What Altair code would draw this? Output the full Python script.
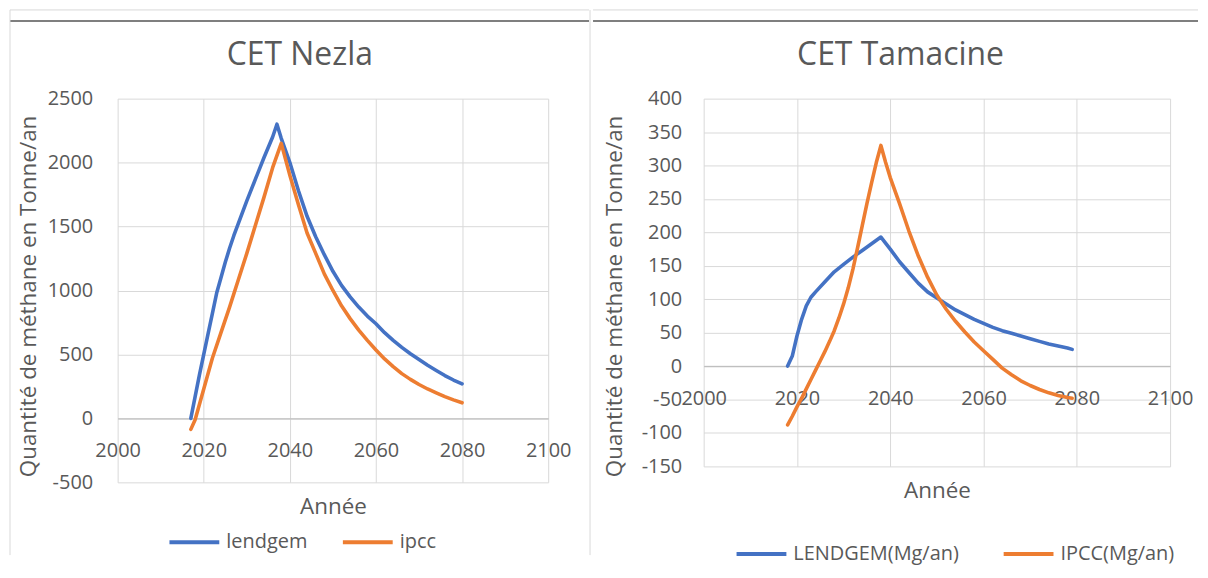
import altair as alt
import pandas as pd

# ---------------- data ----------------
nezla_lendgem_years = [2017, 2018, 2019, 2020, 2021, 2022, 2023, 2024, 2025, 2026, 2027, 2028,
                       2030, 2032, 2034, 2036, 2037, 2038, 2040, 2042, 2044, 2046, 2048, 2050,
                       2052, 2054, 2056, 2058, 2060, 2062, 2064, 2066, 2068, 2070, 2072, 2074,
                       2076, 2078, 2080]
nezla_lendgem_values = [0, 170, 340, 500, 660, 820, 980, 1100, 1220, 1330, 1430, 1520,
                        1700, 1870, 2040, 2200, 2300, 2190, 2000, 1780, 1580, 1420, 1280, 1150,
                        1040, 950, 870, 800, 740, 670, 610, 555, 505, 460, 415, 375,
                        335, 300, 270]

nezla_ipcc_years = [2017, 2018, 2020, 2022, 2024, 2026, 2028, 2030, 2032, 2034, 2036, 2038,
                    2040, 2042, 2044, 2046, 2048, 2050, 2052, 2054, 2056, 2058, 2060, 2062,
                    2064, 2066, 2068, 2070, 2072, 2074, 2076, 2078, 2080]
nezla_ipcc_values = [-86, -10, 230, 470, 670, 870, 1080, 1290, 1510, 1730, 1960, 2150,
                     1900, 1670, 1450, 1290, 1130, 1000, 880, 780, 690, 610, 535, 465,
                     405, 350, 305, 265, 230, 200, 170, 145, 122]

tama_lendgem_years = [2018, 2019, 2020, 2021, 2022, 2023, 2024, 2026, 2028, 2030, 2032, 2034,
                      2036, 2038, 2040, 2042, 2044, 2046, 2048, 2050, 2052, 2054, 2056, 2058,
                      2060, 2062, 2064, 2066, 2068, 2070, 2072, 2074, 2076, 2078, 2079]
tama_lendgem_values = [0, 15, 45, 70, 90, 103, 111, 126, 141, 152, 163, 173,
                       183, 193, 175, 156, 140, 124, 111, 102, 93, 84, 77, 70,
                       64, 58, 53, 49, 45, 41, 37, 33, 30, 27, 25]

tama_ipcc_years = [2018, 2019, 2020, 2021, 2022, 2023, 2024, 2025, 2026, 2027, 2028, 2029,
                   2030, 2031, 2032, 2033, 2034, 2035, 2036, 2037, 2038, 2039, 2040, 2042,
                   2044, 2046, 2048, 2050, 2052, 2054, 2056, 2058, 2060, 2062, 2064, 2066,
                   2068, 2070, 2072, 2074, 2076, 2078, 2079]
tama_ipcc_values = [-88, -75, -61, -48, -34, -20, -6, 8, 22, 37, 53, 72,
                    93, 117, 145, 177, 210, 243, 274, 304, 330, 305, 282, 243,
                    202, 165, 133, 106, 85, 67, 51, 36, 23, 10, -3, -13,
                    -22, -29, -35, -40, -44, -47, -48]

x_ticks = [2000, 2020, 2040, 2060, 2080, 2100]
nezla_y_ticks = [-500, 0, 500, 1000, 1500, 2000, 2500]
tama_y_ticks = [-150, -100, -50, 0, 50, 100, 150, 200, 250, 300, 350, 400]

nezla_names = ["lendgem", "ipcc"]
tama_names = ["LENDGEM(Mg/an)", "IPCC(Mg/an)"]

# ---------------- style ----------------
FONT = "Open Sans"
TEXT = "#595959"
GRID = "#d9d9d9"
BLUE = "#4472C4"
ORANGE = "#ED7D31"
LABEL_EXPR = "datum.value < 0 ? '-' + format(-datum.value, 'd') : format(datum.value, 'd')"


def frame_rules(specs):
    base = alt.Chart(pd.DataFrame({"k": [0]}))
    layers = []
    for s in specs:
        enc = {k: alt.value(v) for k, v in s["pos"].items()}
        layers.append(base.mark_rule(color=s["color"], strokeWidth=s["sw"]).encode(**enc))
    return layers


def panel(series, names, title, title_dx, ydomain, yticks, width, height, xoffset, xtitle_y,
          ylabel_pad, legend_x, legend_y, col_pad, rules):
    x = alt.X("year:Q",
              scale=alt.Scale(domain=[2000, 2100], nice=False, zero=False),
              axis=alt.Axis(values=x_ticks, format="d", offset=xoffset, grid=True,
                            gridColor=GRID, gridWidth=1, domain=True, domainColor="#bfbfbf",
                            domainWidth=1.2, ticks=False, labelPadding=22, labelFontSize=20,
                            labelFont=FONT, labelColor=TEXT, labelFlush=False,
                            labelOverlap=False, title="Année", titleFont=FONT,
                            titleFontSize=22.5, titleFontWeight="normal", titleColor=TEXT,
                            titleBaseline="alphabetic", titleY=xtitle_y))
    y = alt.Y("value:Q",
              scale=alt.Scale(domain=ydomain, nice=False, zero=False),
              axis=alt.Axis(values=yticks, labelExpr=LABEL_EXPR, grid=True, gridColor=GRID,
                            gridWidth=1, domain=False, ticks=False, labelPadding=ylabel_pad,
                            labelFontSize=20, labelFont=FONT, labelColor=TEXT,
                            labelOverlap=False, title="Quantité de méthane en Tonne/an",
                            titleFont=FONT, titleFontSize=22.5, titleFontWeight="normal",
                            titleColor=TEXT, titleAngle=270, titleAlign="center",
                            titleBaseline="alphabetic", titleX=-82, titleY=198))
    color = alt.Color("series:N",
                      scale=alt.Scale(domain=names, range=[BLUE, ORANGE]),
                      legend=alt.Legend(orient="none", legendX=legend_x, legendY=legend_y,
                                        direction="horizontal", title=None,
                                        symbolType="M-5,0H5", symbolSize=100,
                                        symbolStrokeWidth=4, labelFont=FONT,
                                        labelFontSize=20, labelColor=TEXT, labelOffset=22,
                                        columnPadding=col_pad, padding=0, labelLimit=0))
    line_layers = []
    for (yrs, vals), name in zip(series, names):
        df = pd.DataFrame({"year": yrs, "value": vals, "series": name})
        line_layers.append(
            alt.Chart(df).mark_line(strokeWidth=3.6, strokeCap="round", strokeJoin="round")
            .encode(x=x, y=y, color=color))
    return alt.layer(*frame_rules(rules), *line_layers).properties(
        width=width, height=height,
        title=alt.TitleParams(title, font=FONT, fontSize=32, fontWeight="normal", color=TEXT,
                              anchor="middle", frame="bounds", offset=-88, dx=title_dx,
                              baseline="alphabetic"))


left_rules = [
    {"pos": {"x": -108, "x2": 473, "y": -89}, "color": "#d9d9d9", "sw": 1},
    {"pos": {"x": -108, "x2": 473, "y": -78}, "color": "#7f7f7f", "sw": 2},
    {"pos": {"x": -108, "y": -89, "y2": 458}, "color": "#d9d9d9", "sw": 1},
    {"pos": {"x": 474, "y": -89, "y2": 458}, "color": "#d9d9d9", "sw": 1},
]
right_rules = [
    {"pos": {"x": -111, "x2": 496, "y": -89}, "color": "#d9d9d9", "sw": 1},
    {"pos": {"x": -111, "x2": 496, "y": -78}, "color": "#7f7f7f", "sw": 2},
]

left = panel([(nezla_lendgem_years, nezla_lendgem_values), (nezla_ipcc_years, nezla_ipcc_values)],
             nezla_names, "CET Nezla", 0, [-500, 2500], nezla_y_ticks, 432, 385,
             -64.2, 95, 25, 67, 435, 27, left_rules)
right = panel([(tama_lendgem_years, tama_lendgem_values), (tama_ipcc_years, tama_ipcc_values)],
              tama_names, "CET Tamacine", 5, [-150, 400], tama_y_ticks, 468, 369,
              -100.6, 132, 22, 48, 447, 36, right_rules)

chart = alt.concat(left, right, columns=2, spacing=0, align="each").resolve_scale(
    color="independent").properties(
    padding={"left": 0, "top": 0, "right": 0, "bottom": 0}
).configure_view(stroke="transparent")

chart.save("out.html", embed_options={"renderer": "svg", "actions": False})
